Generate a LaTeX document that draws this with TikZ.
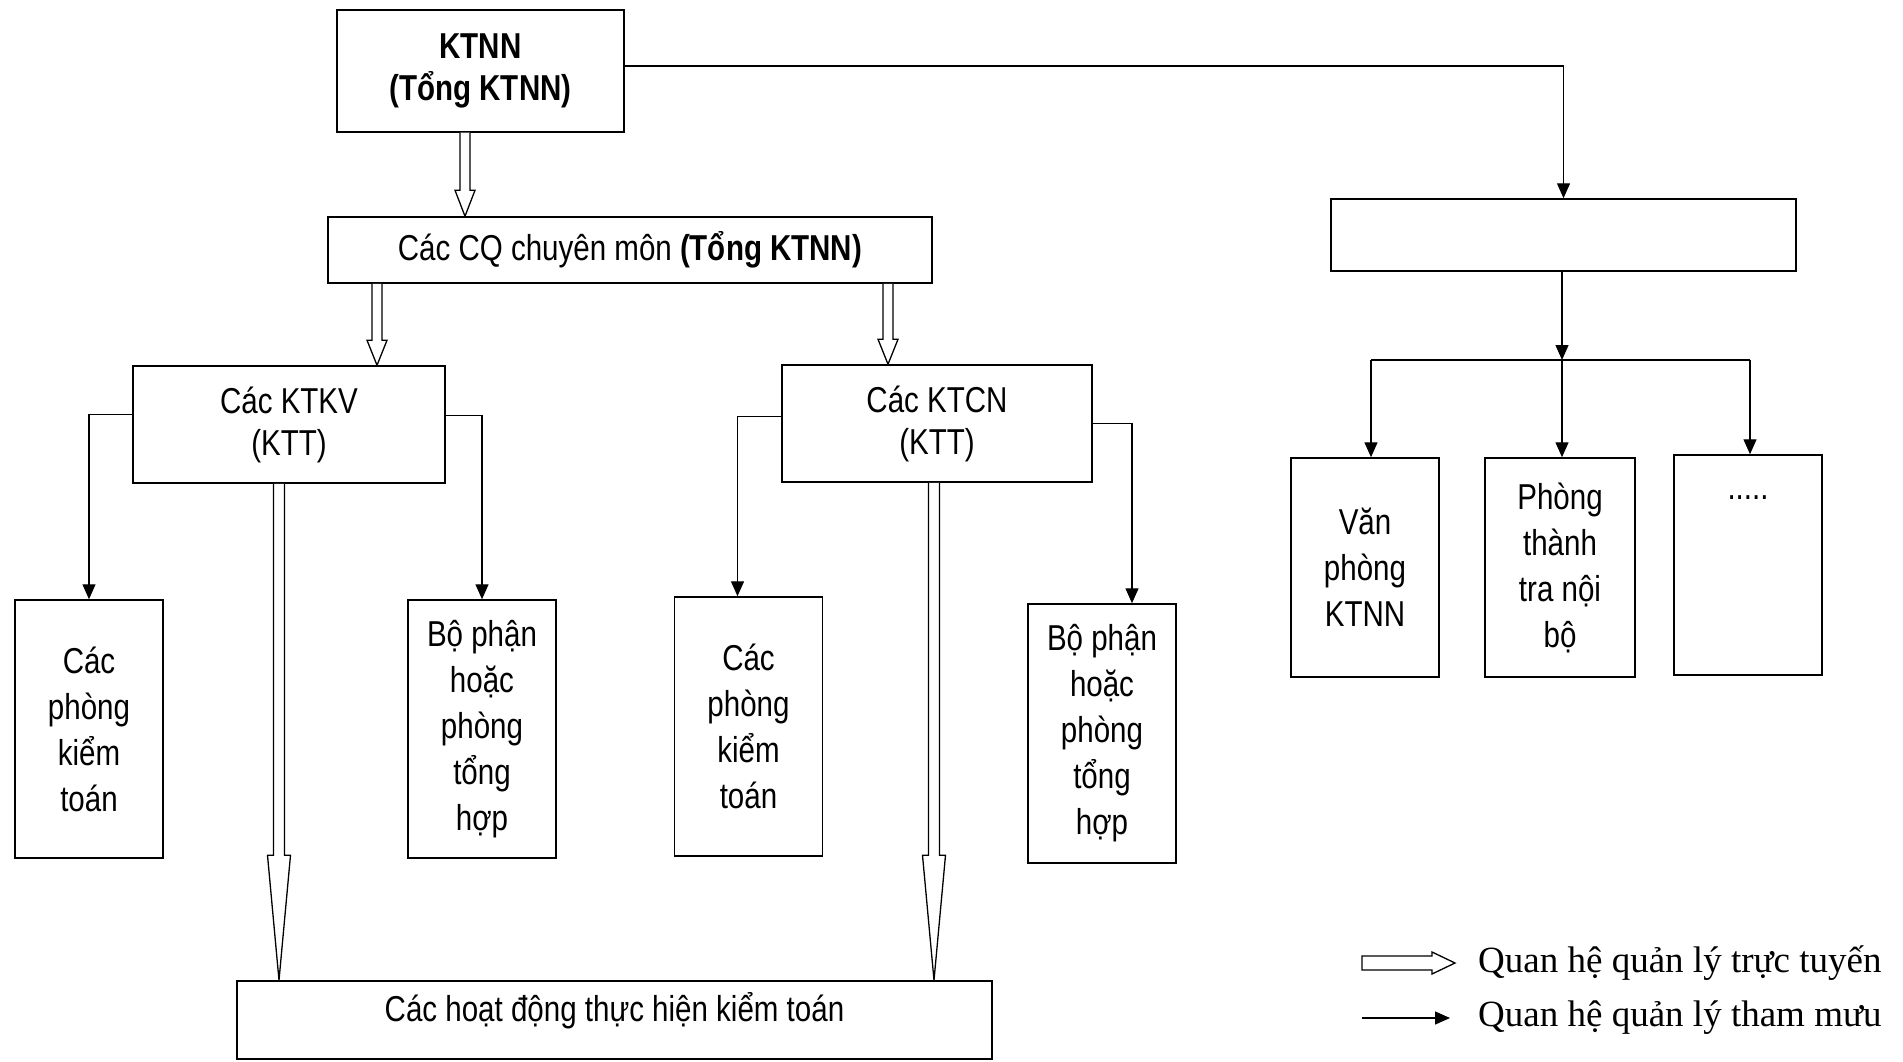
\documentclass[tikz,border=0pt]{standalone}
\usepackage{fontspec}
\setmainfont{Liberation Sans}[FakeStretch=0.82]
\newfontfamily\legendfont{Liberation Serif}
\usepackage{tikz}
\usetikzlibrary{positioning,arrows.meta,calc}

% hollow (double) arrow pointing down: start, end, head length, shaft half width, head half width
\newcommand{\hollowdown}[5]{%
  \draw[hollow] let \p1=(#1), \p2=(#2) in
    (\x1-#4pt,\y1) -- (\x1-#4pt,\y2+#3pt) -- (\x1-#5pt,\y2+#3pt) -- (\x1,\y2)
    -- (\x1+#5pt,\y2+#3pt) -- (\x1+#4pt,\y2+#3pt) -- (\x1+#4pt,\y1);}

\begin{document}
\begin{tikzpicture}[
    x=1pt, y=-1pt,
    font=\fontsize{36}{42}\selectfont,
    box/.style={rectangle, draw, line width=1.5pt, inner sep=0pt, align=center, fill=white, text=black},
    tallbox/.style={box, minimum width=148pt, font=\fontsize{36}{46}\selectfont},
    arr/.style={-{Triangle[length=15pt,width=13pt]}, line width=1.4pt},
    hollow/.style={line width=1.3pt, fill=white, line join=miter},
    legtext/.style={font=\legendfont\fontsize{37}{44}\selectfont, anchor=west, inner sep=0pt}
]
\useasboundingbox (0,0) rectangle (1903,1062);

% ============================================================
% LEFT BRANCH -- line management
% ============================================================
\node[box, minimum width=287pt, minimum height=122pt] (ktnn) at (480.5,71) {\textbf{KTNN}\\\textbf{(Tổng KTNN)}};
\node[box, minimum width=604pt, minimum height=66pt]  (cq)   at (630,250) {Các CQ chuyên môn \textbf{(Tổng KTNN)}};

\node[box, minimum width=312pt, minimum height=117pt] (ktkv) at (289,424.5) {Các KTKV\\(KTT)};
\node[box, minimum width=310pt, minimum height=117pt] (ktcn) at (937,423.5) {Các KTCN\\(KTT)};

\node[tallbox, minimum height=258pt] (pkt1) at (89,729)      {Các\\phòng\\kiểm\\toán};
\node[tallbox, minimum height=258pt] (bph1) at (482,729)     {Bộ phận\\hoặc\\phòng\\tổng\\hợp};
\node[tallbox, minimum height=259pt] (pkt2) at (748.5,726.5) {Các\\phòng\\kiểm\\toán};
\node[tallbox, minimum height=259pt] (bph2) at (1102,733.5)  {Bộ phận\\hoặc\\phòng\\tổng\\hợp};

\node[box, minimum width=755pt, minimum height=78pt] (hd) at (614.5,1020) {};
\node (hdtext) at ([yshift=-30pt]hd.north) {Các hoạt động thực hiện kiểm toán};

% ============================================================
% RIGHT BRANCH -- advisory units
% ============================================================
\node[box, minimum width=465pt, minimum height=72pt] (rbox) at (1563.5,235) {};

\node[tallbox, minimum height=219pt] (vp)  at (1365,567.5) {Văn\\phòng\\KTNN};
\node[tallbox, minimum width=150pt, minimum height=219pt] (ttr) at (1560,567.5) {Phòng\\thành\\tra nội\\bộ};
\node[tallbox, minimum height=220pt] (dots) at (1748,565) {};
\node (dotstext) at ([yshift=-43pt]dots.north) {.....};

\coordinate (rjoin) at (1562,360);

% ============================================================
% CONNECTORS
% ============================================================
\hollowdown{[xshift=-15.5pt]ktnn.south}{cq.north}{26}{5}{10}
\hollowdown{[xshift=-253pt]cq.south}{ktkv.north}{25}{5}{10}
\hollowdown{[xshift=258pt]cq.south}{ktcn.north}{25}{5}{10}
\hollowdown{[xshift=-10pt]ktkv.south}{hd.north}{125}{5.5}{11.5}
\hollowdown{[xshift=-3pt]ktcn.south}{hd.north}{125}{5.5}{11.5}

\draw[arr] ([yshift=5pt]ktnn.east) -| (rbox.north);
\draw[arr] ([yshift=10pt]ktkv.west) -| (pkt1.north);
\draw[arr] ([yshift=9pt]ktkv.east) -| (bph1.north);
\draw[arr] ([yshift=7pt]ktcn.west) -| ([xshift=-11pt]pkt2.north);
\draw[arr] (ktcn.east) -| ([xshift=30pt]bph2.north);

\draw[arr] (rjoin |- rbox.south) -- (rjoin);
\draw[line width=1.4pt] ([xshift=6pt]rjoin -| vp.north) -- ([xshift=2pt]rjoin -| dots.north);
\draw[arr] ([xshift=6pt]rjoin -| vp.north) -- ([xshift=6pt]vp.north);
\draw[arr] (rjoin) -- (rjoin |- ttr.north);
\draw[arr] ([xshift=2pt]rjoin -| dots.north) -- ([xshift=2pt]dots.north);

% ============================================================
% LEGEND
% ============================================================
\coordinate (lg1s) at (1362,963);
\coordinate (lg1e) at (1455,963);
\coordinate (lg2s) at (1362,1018);
\coordinate (lg2e) at (1450,1018);

\draw[hollow] let \p1=(lg1s), \p2=(lg1e) in
    (\x1,\y1-7pt) -- (\x2-23pt,\y1-7pt) -- (\x2-23pt,\y1-11pt) -- (\x2,\y1)
    -- (\x2-23pt,\y1+11pt) -- (\x2-23pt,\y1+7pt) -- (\x1,\y1+7pt) -- cycle;
\draw[arr] (lg2s) -- (lg2e);

\node[legtext] (lg1) at (1478,963)  {Quan hệ quản lý trực tuyến};
\node[legtext] (lg2) at (1478,1018) {Quan hệ quản lý tham mưu};

\end{tikzpicture}
\end{document}
